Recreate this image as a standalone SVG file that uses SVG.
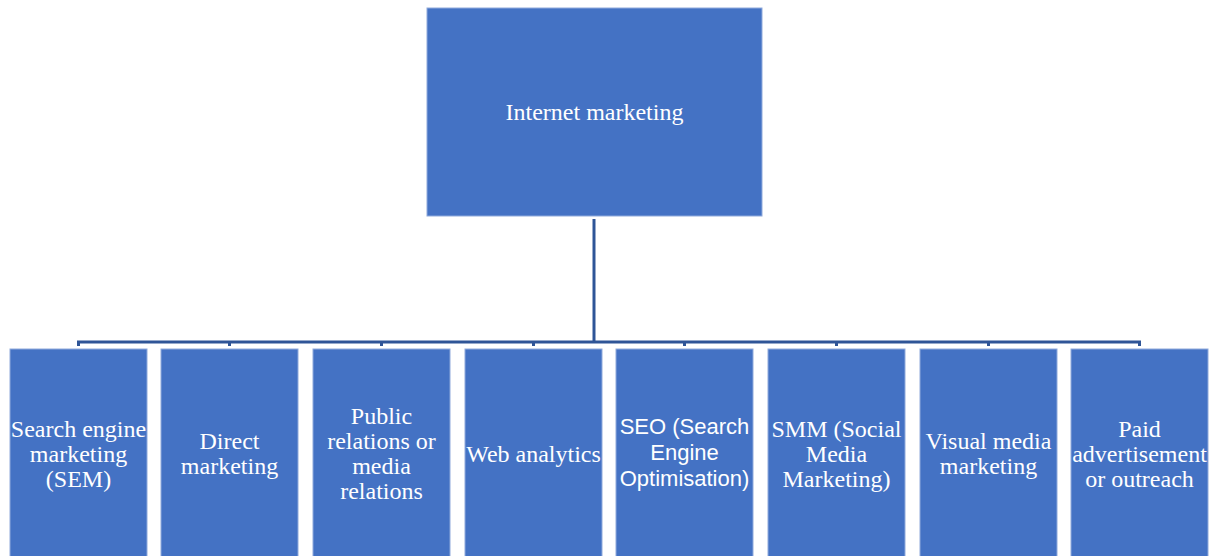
<svg xmlns="http://www.w3.org/2000/svg" width="1212" height="556" viewBox="0 0 1212 556">
  <style>
    .box { fill: #4472C4; stroke: #8FAADC; stroke-width: 1; }
    .lbl { fill: #FFFFFF; font-family: "Liberation Serif", "Times New Roman", serif; font-size: 24px; text-anchor: middle; }
    .sans { font-family: "Liberation Sans", Arial, sans-serif; font-size: 22px; }
    .conn { fill: none; stroke: #2F5597; stroke-width: 3; }
  </style>
  <rect width="1212" height="556" fill="#FFFFFF"/>

  <!-- connectors -->
  <g id="connectors" class="conn">
    <path d="M594 219 V342"/>
    <path d="M78.5 346 V342 H1139.5 V346"/>
    <path d="M229.5 342 V346 M381.5 342 V346 M533.5 342 V346 M684.5 342 V346 M836.5 342 V346 M988.5 342 V346"/>
  </g>

  <g id="root">
    <rect class="box" x="427" y="8" width="335" height="208"/>
    <text class="lbl" x="594.5" y="120">Internet marketing</text>
  </g>

  <g id="sem">
    <rect class="box" x="10" y="349" width="137" height="215"/>
    <text class="lbl" x="78.5" y="437">Search engine<tspan x="78.5" dy="25">marketing</tspan><tspan x="78.5" dy="25">(SEM)</tspan></text>
  </g>

  <g id="direct">
    <rect class="box" x="161" y="349" width="137" height="215"/>
    <text class="lbl" x="229.5" y="449">Direct<tspan x="229.5" dy="25">marketing</tspan></text>
  </g>

  <g id="pr">
    <rect class="box" x="313" y="349" width="137" height="215"/>
    <text class="lbl" x="381.5" y="424">Public<tspan x="381.5" dy="25">relations or</tspan><tspan x="381.5" dy="25">media</tspan><tspan x="381.5" dy="25">relations</tspan></text>
  </g>

  <g id="web">
    <rect class="box" x="465" y="349" width="137" height="215"/>
    <text class="lbl" x="533.5" y="462">Web analytics</text>
  </g>

  <g id="seo">
    <rect class="box" x="616" y="349" width="137" height="215"/>
    <text class="lbl sans" x="684.5" y="434">SEO (Search<tspan x="684.5" dy="26">Engine</tspan><tspan x="684.5" dy="26">Optimisation)</tspan></text>
  </g>

  <g id="smm">
    <rect class="box" x="768" y="349" width="137" height="215"/>
    <text class="lbl" x="836.5" y="437">SMM (Social<tspan x="836.5" dy="25">Media</tspan><tspan x="836.5" dy="25">Marketing)</tspan></text>
  </g>

  <g id="visual">
    <rect class="box" x="920" y="349" width="137" height="215"/>
    <text class="lbl" x="988.5" y="449">Visual media<tspan x="988.5" dy="25">marketing</tspan></text>
  </g>

  <g id="paid">
    <rect class="box" x="1071" y="349" width="137" height="215"/>
    <text class="lbl" x="1139.5" y="437">Paid<tspan x="1139.5" dy="25">advertisement</tspan><tspan x="1139.5" dy="25">or outreach</tspan></text>
  </g>
</svg>
